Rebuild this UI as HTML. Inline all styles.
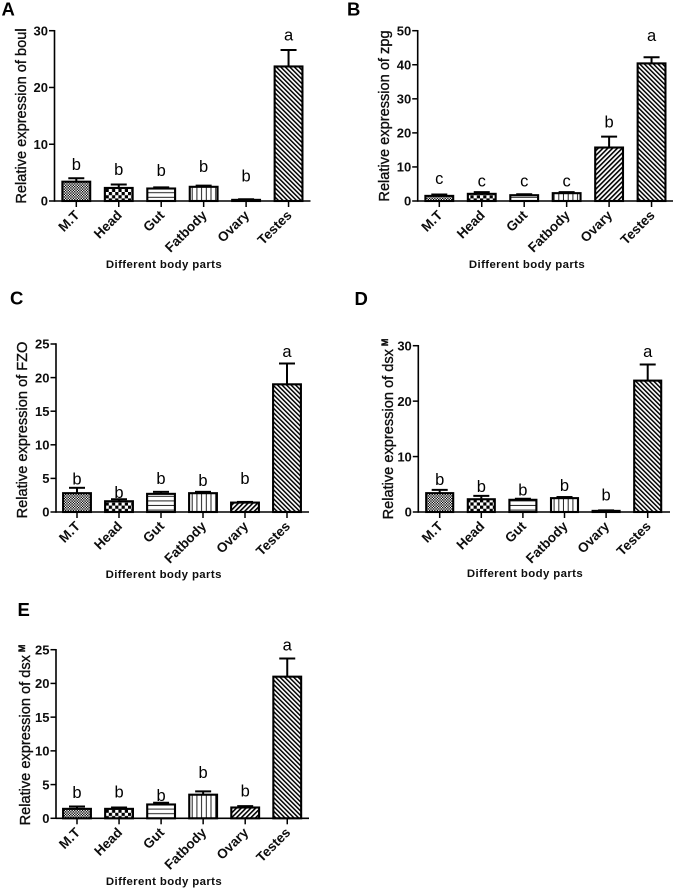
<!DOCTYPE html>
<html>
<head>
<meta charset="utf-8">
<title>Relative expression by body part</title>
<style>
html,body{margin:0;padding:0;background:#fff;width:675px;height:888px;overflow:hidden}
svg{display:block;font-family:"Liberation Sans",sans-serif}
</style>
</head>
<body>
<svg id="figure" xmlns="http://www.w3.org/2000/svg" width="675" height="888" viewBox="0 0 675 888">
<defs>
<filter id="soft" x="-2%" y="-2%" width="104%" height="104%"><feGaussianBlur stdDeviation="0.3"/></filter>
<pattern id="p-mt" width="2.6" height="2.6" patternUnits="userSpaceOnUse"><rect width="2.6" height="2.6" fill="#fff"/><rect width="1.3" height="1.3" fill="#000"/><rect x="1.3" y="1.3" width="1.3" height="1.3" fill="#000"/></pattern>
<pattern id="p-head" width="6.4" height="6.4" patternUnits="userSpaceOnUse"><rect width="6.4" height="6.4" fill="#fff"/><rect width="3.2" height="3.2" fill="#000"/><rect x="3.2" y="3.2" width="3.2" height="3.2" fill="#000"/></pattern>
<pattern id="p-gut" width="4" height="4.6" patternUnits="userSpaceOnUse"><rect width="4" height="4.6" fill="#fff"/><rect y="3.6" width="4" height="1" fill="#222"/></pattern>
<pattern id="p-fat" width="4.7" height="4" patternUnits="userSpaceOnUse"><rect width="4.7" height="4" fill="#fff"/><rect x="3.7" width="1" height="4" fill="#222"/></pattern>
<pattern id="p-ovary" width="3.4" height="3.4" patternUnits="userSpaceOnUse" patternTransform="rotate(45)"><rect width="3.4" height="3.4" fill="#fff"/><rect width="1.6" height="3.4" fill="#000"/></pattern>
<pattern id="p-testes" width="3.2" height="3.2" patternUnits="userSpaceOnUse" patternTransform="rotate(-45)"><rect width="3.2" height="3.2" fill="#fff"/><rect width="1.5" height="3.2" fill="#000"/></pattern>
</defs>
<g id="root" filter="url(#soft)"></g>
</svg>
<script>
const categories = ["M.T", "Head", "Gut", "Fatbody", "Ovary", "Testes"];

const valuesA = [3.4, 2.3, 2.2, 2.5, 0.2, 23.7];
const errorTopsA = [4.0, 2.9, 2.4, 2.7, 0.3, 26.6];
const lettersA = ["b", "b", "b", "b", "b", "a"];
const letterLevelsA = [5.5, 4.6, 4.4, 5.1, 3.4, 28.3];
const ticksA = [0, 10, 20, 30];

const valuesB = [1.5, 2.1, 1.7, 2.3, 15.7, 40.4];
const errorTopsB = [1.9, 2.6, 2.0, 2.6, 18.9, 42.2];
const lettersB = ["c", "c", "c", "c", "b", "a"];
const letterLevelsB = [5.0, 4.3, 4.3, 4.3, 21.6, 47.0];
const ticksB = [0, 10, 20, 30, 40, 50];

const valuesC = [2.8, 1.6, 2.7, 2.8, 1.4, 19.0];
const errorTopsC = [3.6, 1.9, 3.0, 3.0, 1.5, 22.1];
const lettersC = ["b", "b", "b", "b", "b", "a"];
const letterLevelsC = [4.1, 2.1, 4.2, 3.9, 4.2, 23.1];
const ticksC = [0, 5, 10, 15, 20, 25];

const valuesD = [3.4, 2.3, 2.2, 2.5, 0.2, 23.7];
const errorTopsD = [4.0, 2.9, 2.4, 2.7, 0.3, 26.6];
const lettersD = ["b", "b", "b", "b", "b", "a"];
const letterLevelsD = [4.9, 3.6, 3.0, 3.8, 2.1, 28.0];
const ticksD = [0, 10, 20, 30];

const valuesE = [1.4, 1.4, 2.05, 3.5, 1.6, 21.0];
const errorTopsE = [1.75, 1.6, 2.3, 4.0, 1.8, 23.7];
const lettersE = ["b", "b", "b", "b", "b", "a"];
const letterLevelsE = [3.0, 3.1, 2.6, 6.0, 3.2, 24.9];
const ticksE = [0, 5, 10, 15, 20, 25];

const fills = ["p-mt", "p-head", "p-gut", "p-fat", "p-ovary", "p-testes"];
const NS = "http://www.w3.org/2000/svg";
const root = document.getElementById("root");

function node(parent, tag, attrs, text) {
  const el = document.createElementNS(NS, tag);
  for (const k in attrs) el.setAttribute(k, attrs[k]);
  if (text !== undefined) el.textContent = text;
  parent.appendChild(el);
  return el;
}

function drawPanel(p) {
  const g = node(root, "g", {});
  
  

  const maxTick = p.ticks[p.ticks.length - 1];
  const y = v => p.y0 - (p.y0 - p.yTop) * v / maxTick;
  const x = i => p.firstX + p.stepX * i;

  const panelLabel = node(g, "text", {x: p.labelX, y: p.labelY, "font-size": 18.5, "font-weight": "bold", fill: "#000"}, p.id);
  
  

  p.values.forEach((v, i) => {
    const bar = node(g, "rect", {x: x(i) - p.barW / 2, y: y(v), width: p.barW, height: p.y0 - y(v), fill: "url(#" + fills[i] + ")", stroke: "#000", "stroke-width": 2.1});
    
    

    const stem = node(g, "line", {x1: x(i), x2: x(i), y1: y(v), y2: y(p.errorTops[i]), stroke: "#000", "stroke-width": 2});
    
    

    const cap = node(g, "line", {x1: x(i) - 8, x2: x(i) + 8, y1: y(p.errorTops[i]), y2: y(p.errorTops[i]), stroke: "#000", "stroke-width": 2});
    
    

    const letter = node(g, "text", {x: x(i), y: y(p.letterLevels[i]), "font-size": 16.5, "text-anchor": "middle", fill: "#000"}, p.letters[i]);
    
    

    const tick = node(g, "line", {x1: x(i), x2: x(i), y1: p.y0, y2: p.y0 + 6, stroke: "#000", "stroke-width": 1.5});
    
    

    const lx = x(i) + 4, ly = p.y0 + 15;
    const label = node(g, "text", {x: lx, y: ly, "font-size": 13.5, "font-weight": "bold", "text-anchor": "end", fill: "#111", transform: "rotate(-45 " + lx + " " + ly + ")"}, categories[i]);
    
    
  });

  const yAxis = node(g, "line", {x1: p.axisX, x2: p.axisX, y1: p.yTop - 0.7, y2: p.y0 + 0.7, stroke: "#000", "stroke-width": 1.6});
  
  

  const xAxis = node(g, "line", {x1: p.axisX, x2: p.axisEnd, y1: p.y0, y2: p.y0, stroke: "#000", "stroke-width": 1.6});
  
  

  p.ticks.forEach(t => {
    const tick = node(g, "line", {x1: p.axisX - 5.5, x2: p.axisX, y1: y(t), y2: y(t), stroke: "#000", "stroke-width": 1.5});
    
    

    const tickLabel = node(g, "text", {x: p.axisX - 6.5, y: y(t) + 4.7, "font-size": 13, "font-weight": "bold", "text-anchor": "end", fill: "#111"}, t);
    
    
  });

  const yTitle = node(g, "text", {x: p.titleX, y: p.titleY, "font-size": 14.6, "text-anchor": "middle", fill: "#111", stroke: "#111", "stroke-width": 0.35, transform: "rotate(-90 " + p.titleX + " " + p.titleY + ")"}, p.title);
  
  
  if (p.sup) {
    const sup = node(yTitle, "tspan", {dx: 3, dy: -5, "font-size": 9, "font-weight": "bold"}, p.sup);
    
    
  }

  const xTitle = node(g, "text", {x: p.xTitleX, y: p.xTitleY, "font-size": 11.4, "font-weight": "bold", "letter-spacing": 0.4, "text-anchor": "middle", fill: "#111"}, "Different body parts");
  
  
}

drawPanel({id: "A", values: valuesA, errorTops: errorTopsA, letters: lettersA, letterLevels: letterLevelsA, ticks: ticksA, title: "Relative expression of boul", axisX: 54.5, axisEnd: 310.5, yTop: 30.7, y0: 201, firstX: 76.3, stepX: 42.45, barW: 27.8, labelX: 1.5, labelY: 15.5, titleX: 26, titleY: 116, xTitleX: 164, xTitleY: 268});
drawPanel({id: "B", values: valuesB, errorTops: errorTopsB, letters: lettersB, letterLevels: letterLevelsB, ticks: ticksB, title: "Relative expression of zpg", axisX: 417.7, axisEnd: 673, yTop: 30.7, y0: 201, firstX: 439.3, stepX: 42.45, barW: 27.8, labelX: 347, labelY: 15.5, titleX: 389, titleY: 116, xTitleX: 527, xTitleY: 268});
drawPanel({id: "C", values: valuesC, errorTops: errorTopsC, letters: lettersC, letterLevels: letterLevelsC, ticks: ticksC, title: "Relative expression of FZO", axisX: 56, axisEnd: 309, yTop: 344, y0: 512, firstX: 77, stepX: 42, barW: 27.8, labelX: 10, labelY: 304.5, titleX: 27, titleY: 430, xTitleX: 163.7, xTitleY: 578});
drawPanel({id: "D", values: valuesD, errorTops: errorTopsD, letters: lettersD, letterLevels: letterLevelsD, ticks: ticksD, title: "Relative expression of dsx", sup: "M", axisX: 418.3, axisEnd: 670, yTop: 345.7, y0: 512, firstX: 439.7, stepX: 41.6, barW: 27, labelX: 354.5, labelY: 305, titleX: 393, titleY: 429, xTitleX: 525, xTitleY: 577});
drawPanel({id: "E", values: valuesE, errorTops: errorTopsE, letters: lettersE, letterLevels: letterLevelsE, ticks: ticksE, title: "Relative expression of dsx", sup: "M", axisX: 56, axisEnd: 309, yTop: 649.7, y0: 818.3, firstX: 77, stepX: 42.05, barW: 27.8, labelX: 17.5, labelY: 616, titleX: 30, titleY: 735, xTitleX: 164, xTitleY: 885});
</script>
</body>
</html>
